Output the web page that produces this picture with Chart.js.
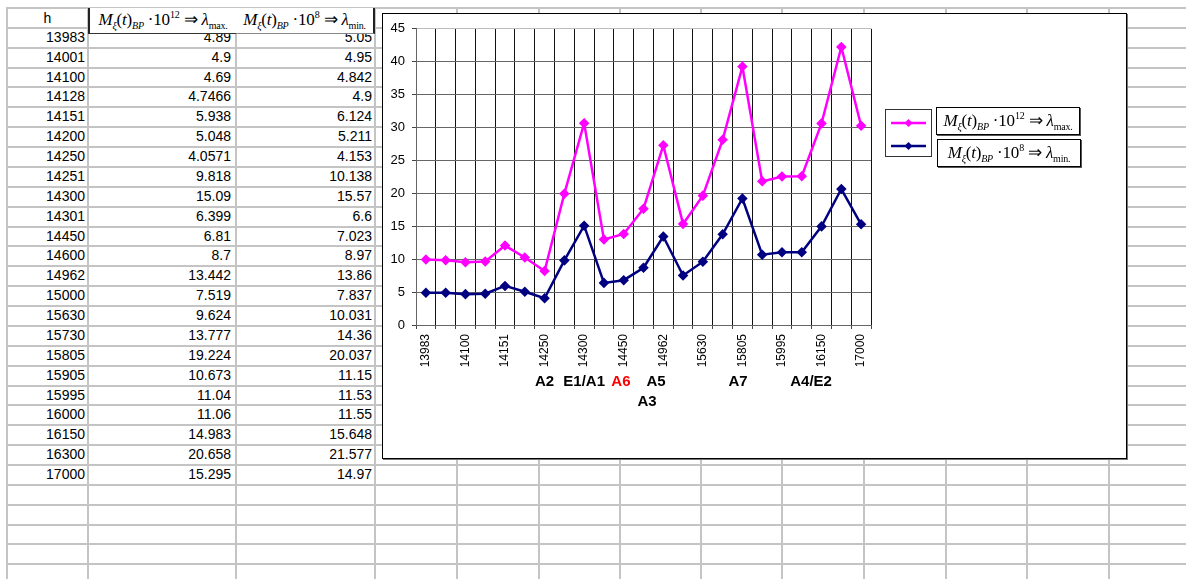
<!DOCTYPE html>
<html>
<head>
<meta charset="utf-8">
<script src="https://cdn.jsdelivr.net/npm/chart.js@4.4.1/dist/chart.umd.min.js"></script>
<style>
  html, body { margin: 0; padding: 0; background: #fff; width: 1186px; height: 579px; overflow: hidden;
    font-family: "Liberation Sans", Arial, sans-serif; }
  #sheet { position: absolute; left: 0; top: 0; width: 1186px; height: 579px; }
  .gl { position: absolute; background: #c4c4c4; }
  .cell { position: absolute; font-size: 14px; color: #000; white-space: nowrap; line-height: 19px; }
  .eq { font-family: "Liberation Serif", "Times New Roman", serif; font-size: 17px; white-space: nowrap; letter-spacing: -0.2px; }
  .eq sub { font-size: 10px; vertical-align: -4px; line-height: 0; }
  .eq sup { font-size: 10px; vertical-align: 7px; line-height: 0; }
  .hdr { position: absolute; top: 8px; height: 25px; background: #fff; line-height: 24px; text-align: center; z-index: 2; }
  #box { position: absolute; left: 382px; top: 13px; width: 743px; height: 444px; border: 1px solid #000;
    background: #fff; box-shadow: 1px 1px 0 #777; z-index: 3; }
  #wrap { position: absolute; left: 0; top: 0; width: 743px; height: 444px; }
  .lgsym { position: absolute; left: 885px; top: 109px; width: 45px; height: 46px; border: 1px solid #333; background: #fff; z-index: 4; }
  .lgtxt { position: absolute; height: 26px; border: 1px solid #000; box-shadow: 1px 1px 0 #555; background: #fff;
    line-height: 26px; text-align: center; z-index: 4; }
</style>
</head>
<body>
<div id="sheet"></div>
<div id="box"><div id="wrap"><canvas id="c"></canvas></div></div>

<script>
// Depth values h (categories) and the two measured columns
const heights = ['13983','14001','14100','14128','14151','14200','14250','14251','14300','14301','14450','14600',
  '14962','15000','15630','15730','15805','15905','15995','16000','16150','16300','17000'];
const valuesMax = [4.89, 4.9, 4.69, 4.7466, 5.938, 5.048, 4.0571, 9.818, 15.09, 6.399, 6.81, 8.7,
  13.442, 7.519, 9.624, 13.777, 19.224, 10.673, 11.04, 11.06, 14.983, 20.658, 15.295];
const valuesMin = [5.05, 4.95, 4.842, 4.9, 6.124, 5.211, 4.153, 10.138, 15.57, 6.6, 7.023, 8.97,
  13.86, 7.837, 10.031, 14.36, 20.037, 11.15, 11.53, 11.55, 15.648, 21.577, 14.97];

// Column headings (rich text) and plain series names
const headFirst = 'h';
const headMax = '<i>M</i><sub><i>ξ</i></sub>(<i>t</i>)<sub><i>BP</i></sub> ·10<sup>12</sup> ⇒ <i>λ</i><sub>max.</sub>';
const headMin = '<i>M</i><sub><i>ξ</i></sub>(<i>t</i>)<sub><i>BP</i></sub> ·10<sup>8</sup> ⇒ <i>λ</i><sub>min.</sub>';
const nameMax = 'Mξ(t)BP·10^12 ⇒ λmax.';
const nameMin = 'Mξ(t)BP·10^8 ⇒ λmin.';

// Y axis range
const yMin = 0, yMax = 45, yStep = 5;

// Zone labels under the category axis
const zoneNames  = ['A2', 'E1/A1', 'A6', 'A5', 'A3', 'A7', 'A4/E2'];
const zoneAt     = [6, 8, 9.86, 11.63, 11.18, 15.78, 19.47];
const zoneLine   = [0, 0, 0, 0, 1, 0, 0];
const zoneColors = ['#000', '#000', '#ff0000', '#000', '#000', '#000', '#000'];

// ---------- spreadsheet background ----------
const sheet = document.getElementById('sheet');
const colEdges = [7, 88, 236, 375, 457, 539, 620, 701, 782, 864, 946, 1027, 1109, 1190];
const rowTop0 = 8, rowH = 19.87;
const nRows = 29;

function add(cls, css, html) {
  const d = document.createElement('div');
  d.className = cls;
  Object.assign(d.style, css);
  if (html !== undefined) d.innerHTML = html;
  sheet.appendChild(d);
  return d;
}
for (let k = 0; k <= nRows; k++) {
  const y = rowTop0 + k * rowH;
  add('gl', { left: '7px', top: (y - 1) + 'px', width: '1179px', height: '2px' });
}
colEdges.forEach(x => add('gl', { left: (x - 1) + 'px', top: '7px', width: '2px', height: '572px' }));

// header row
add('cell', { left: '7px', width: '81px', top: rowTop0 + 'px', height: rowH + 'px', textAlign: 'center', lineHeight: '20px' }, headFirst);
add('hdr eq', { left: '88px', width: '146px', borderLeft: '2px solid #222', borderRight: '2px solid #222', borderBottom: '1px solid #333' }, headMax);
add('hdr eq', { left: '236px', width: '137px', borderRight: '2px solid #222', borderBottom: '1px solid #888' }, headMin);

// data rows
heights.forEach((h, i) => {
  const y = rowTop0 + (i + 1) * rowH;
  const base = { top: y + 'px', height: rowH + 'px', textAlign: 'right' };
  add('cell', Object.assign({ left: '7px', width: '78px' }, base), h);
  add('cell', Object.assign({ left: '88px', width: '143px' }, base), String(valuesMax[i]));
  add('cell', Object.assign({ left: '236px', width: '136px' }, base), String(valuesMin[i]));
});

// ---------- legend ----------
function legendSymbol() {
  const s = document.createElement('div');
  s.className = 'lgsym';
  s.innerHTML =
    '<svg width="45" height="46" xmlns="http://www.w3.org/2000/svg">' +
    '<line x1="5" y1="13" x2="40" y2="13" stroke="#ff00ff" stroke-width="2.5"/>' +
    '<polygon points="22.5,9 26.5,13 22.5,17 18.5,13" fill="#ff00ff"/>' +
    '<line x1="5" y1="36" x2="40" y2="36" stroke="#000080" stroke-width="2.5"/>' +
    '<polygon points="22.5,32 26.5,36 22.5,40 18.5,36" fill="#000080"/>' +
    '</svg>';
  document.body.appendChild(s);
}
legendSymbol();
[[headMax, 936, 107], [headMin, 937, 139]].forEach(([html, x, y]) => {
  const d = document.createElement('div');
  d.className = 'lgtxt eq';
  Object.assign(d.style, { left: x + 'px', top: y + 'px', width: '142px' });
  d.innerHTML = html;
  document.body.appendChild(d);
});

// ---------- chart ----------
Chart.defaults.font.family = '"Liberation Sans", Arial, sans-serif';
Chart.defaults.color = '#000';

const zoneLabels = {
  id: 'zoneLabels',
  afterDraw(chart) {
    const { ctx, chartArea, scales: { x } } = chart;
    ctx.save();
    ctx.font = 'bold 15px "Liberation Sans", Arial, sans-serif';
    ctx.textAlign = 'center';
    ctx.textBaseline = 'middle';
    zoneNames.forEach((t, i) => {
      ctx.fillStyle = zoneColors[i];
      ctx.fillText(t, x.getPixelForValue(zoneAt[i]), chartArea.bottom + 57 + zoneLine[i] * 20);
    });
    ctx.restore();
  }
};

new Chart(document.getElementById('c'), {
  type: 'line',
  data: {
    labels: heights,
    datasets: [
      {
        label: nameMax,
        data: valuesMax,
        borderColor: '#000080',
        backgroundColor: '#000080',
        borderWidth: 2.5,
        pointStyle: 'rectRot',
        pointRadius: 3.5,
        tension: 0,
        fill: false
      },
      {
        label: nameMin,
        data: valuesMin,
        borderColor: '#ff00ff',
        backgroundColor: '#ff00ff',
        borderWidth: 2.5,
        pointStyle: 'rectRot',
        pointRadius: 3.5,
        tension: 0,
        fill: false
      }
    ]
  },
  options: {
    responsive: true,
    maintainAspectRatio: false,
    animation: false,
    layout: { padding: { top: 11, left: 0, right: 255, bottom: 0 } },
    plugins: { legend: { display: false }, tooltip: { enabled: false } },
    scales: {
      x: {
        offset: true,
        afterFit(s) { s.height = 133; },
        grid: {
          offset: true,
          color: ctx => (ctx.index === heights.length ? 'rgba(0,0,0,0)' : '#111'),
          lineWidth: 1,
          tickLength: 4,
          tickColor: '#444'
        },
        border: { color: '#666', width: 1 },
        ticks: {
          autoSkip: false,
          maxRotation: 90,
          minRotation: 90,
          padding: 5,
          font: { size: 12 },
          callback: (v, i) => (i % 2 === 0 ? heights[i] : '')
        }
      },
      y: {
        stacked: true,
        min: yMin,
        max: yMax,
        afterFit(s) { s.width = 33; },
        grid: {
          color: ctx => (ctx.tick && ctx.tick.value === yMax ? '#bdbdbd' : '#666'),
          lineWidth: 1,
          tickLength: 4,
          tickColor: '#444'
        },
        border: { color: '#666', width: 1 },
        ticks: { stepSize: yStep, padding: 7, font: { size: 13 } }
      }
    }
  },
  plugins: [zoneLabels]
});
</script>
</body>
</html>
